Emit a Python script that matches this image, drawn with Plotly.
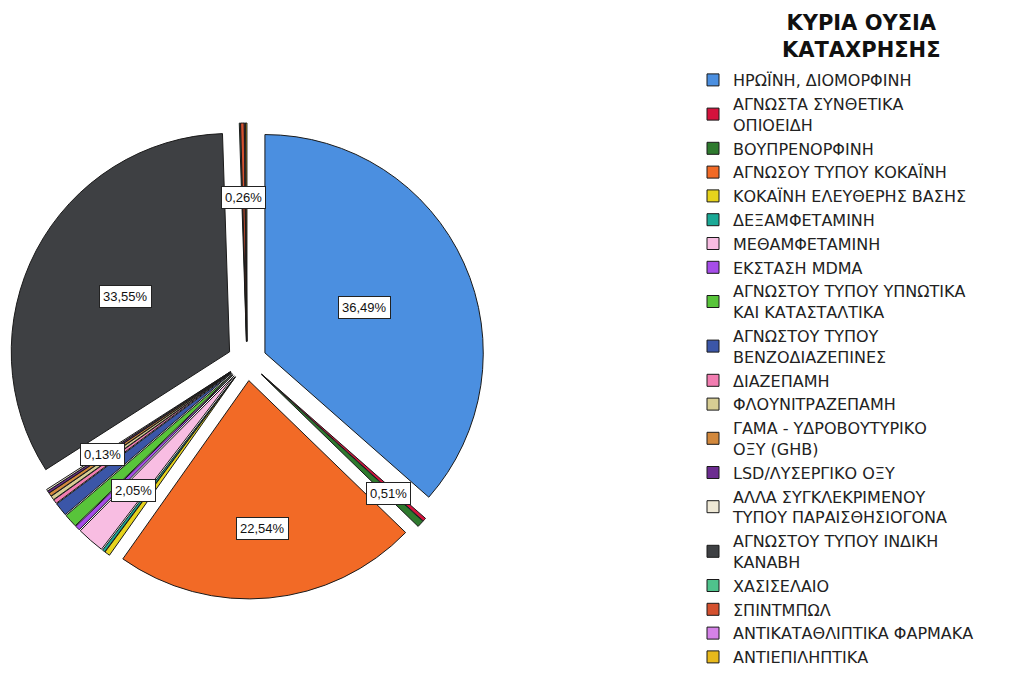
import math
import plotly.graph_objects as go

# ── Data ───────────────────────────────────────────────────────────────
SUBSTANCES = [
    "ΗΡΩΪΝΗ, ΔΙΟΜΟΡΦΙΝΗ",
    "ΑΓΝΩΣΤΑ ΣΥΝΘΕΤΙΚΑ<br>ΟΠΙΟΕΙΔΗ",
    "ΒΟΥΠΡΕΝΟΡΦΙΝΗ",
    "ΑΓΝΩΣΟΥ ΤΥΠΟΥ ΚΟΚΑΪΝΗ",
    "ΚΟΚΑΪΝΗ ΕΛΕΥΘΕΡΗΣ ΒΑΣΗΣ",
    "ΔΕΞΑΜΦΕΤΑΜΙΝΗ",
    "ΜΕΘΑΜΦΕΤΑΜΙΝΗ",
    "ΕΚΣΤΑΣΗ MDMA",
    "ΑΓΝΩΣΤΟΥ ΤΥΠΟΥ ΥΠΝΩΤΙΚΑ<br>ΚΑΙ ΚΑΤΑΣΤΑΛΤΙΚΑ",
    "ΑΓΝΩΣΤΟΥ ΤΥΠΟΥ<br>ΒΕΝΖΟΔΙΑΖΕΠΙΝΕΣ",
    "ΔΙΑΖΕΠΑΜΗ",
    "ΦΛΟΥΝΙΤΡΑΖΕΠΑΜΗ",
    "ΓΑΜΑ - ΥΔΡΟΒΟΥΤΥΡΙΚΟ<br>ΟΞΥ (GHB)",
    "LSD/ΛΥΣΕΡΓΙΚΟ ΟΞΥ",
    "ΑΛΛΑ ΣΥΓΚΛΕΚΡΙΜΕΝΟΥ<br>ΤΥΠΟΥ ΠΑΡΑΙΣΘΗΣΙΟΓΟΝΑ",
    "ΑΓΝΩΣΤΟΥ ΤΥΠΟΥ ΙΝΔΙΚΗ<br>ΚΑΝΑΒΗ",
    "ΧΑΣΙΣΕΛΑΙΟ",
    "ΣΠΙΝΤΜΠΩΛ",
    "ΑΝΤΙΚΑΤΑΘΛΙΠΤΙΚΑ ΦΑΡΜΑΚΑ",
    "ΑΝΤΙΕΠΙΛΗΠΤΙΚΑ",
]

PERCENTS = [
    36.49, 0.25, 0.51, 22.54, 0.40, 0.20, 2.05, 0.35, 1.00, 1.00,
    0.30, 0.30, 0.25, 0.16, 0.13, 33.55, 0.08, 0.26, 0.08, 0.10,
]

COLORS = [
    "#4b8fe0", "#d4123c", "#2e7a2e", "#f26a26", "#e6d31c",
    "#1aa996", "#f8bde2", "#a64de9", "#58c43a", "#3b56a8",
    "#f27db1", "#d7cd93", "#d2883c", "#6c2c90", "#efe9d6",
    "#3e4043", "#4fc38c", "#d4512f", "#d582e8", "#e8b91c",
]

LEGEND_TITLE = "ΚΥΡΙΑ ΟΥΣΙΑ<br>ΚΑΤΑΧΡΗΣΗΣ"

# slices that carry a percentage box
LABELLED = [
    "ΗΡΩΪΝΗ, ΔΙΟΜΟΡΦΙΝΗ",
    "ΒΟΥΠΡΕΝΟΡΦΙΝΗ",
    "ΑΓΝΩΣΟΥ ΤΥΠΟΥ ΚΟΚΑΪΝΗ",
    "ΜΕΘΑΜΦΕΤΑΜΙΝΗ",
    "ΑΛΛΑ ΣΥΓΚΛΕΚΡΙΜΕΝΟΥ<br>ΤΥΠΟΥ ΠΑΡΑΙΣΘΗΣΙΟΓΟΝΑ",
    "ΑΓΝΩΣΤΟΥ ΤΥΠΟΥ ΙΝΔΙΚΗ<br>ΚΑΝΑΒΗ",
    "ΣΠΙΝΤΜΠΩΛ",
]

# ── Layout geometry (page pixels) ──────────────────────────────────────
W, H = 1014, 677
PAGE_OFF = 8               # default body margin of the html page
CX, CY = 247, 361          # pie centre on the page
HALF = 238                 # half size of the pie domain
PULL = 0.09
R = HALF / (1 + PULL)

# radial position of each label box, as a fraction of the radius
LABEL_DIST = [0.50, 0.80, 0.68, 0.70, 0.70, 0.54, 0.66]


def to_paper(px, py):
    return (px - PAGE_OFF) / W, 1 - (py - PAGE_OFF) / H


fig = go.Figure()

x0, y1 = to_paper(CX - HALF, CY - HALF)
x1, y0 = to_paper(CX + HALF, CY + HALF)
fig.add_trace(go.Pie(
    labels=SUBSTANCES,
    values=PERCENTS,
    marker=dict(colors=COLORS, line=dict(color="#1a1a1a", width=1)),
    sort=False,
    direction="clockwise",
    rotation=0,
    pull=[PULL] * len(PERCENTS),
    textinfo="none",
    domain=dict(x=[max(x0, 0), min(x1, 1)], y=[max(y0, 0), min(y1, 1)]),
))

# ── Percentage boxes at slice mid-angles ───────────────────────────────
total = sum(PERCENTS)
cum = 0.0
mids = {}
for name, v in zip(SUBSTANCES, PERCENTS):
    mids[name] = ((cum + v / 2) / total, v / total * 100)
    cum += v

for name, frac in zip(LABELLED, LABEL_DIST):
    m, pct = mids[name]
    ang = m * 2 * math.pi
    d = (PULL + frac) * R
    ax, ay = to_paper(CX + d * math.sin(ang), CY - d * math.cos(ang))
    fig.add_annotation(
        x=ax, y=ay, xref="paper", yref="paper",
        xanchor="center", yanchor="middle",
        text=f"{pct:.2f}%".replace(".", ","),
        showarrow=False,
        bgcolor="white", bordercolor="#222", borderwidth=1, borderpad=3,
        font=dict(family="Liberation Sans, Arial, sans-serif", size=13, color="#111"),
    )

# legend heading
tx, ty = to_paper(861, 36)
fig.add_annotation(
    x=tx, y=ty, xref="paper", yref="paper",
    xanchor="center", yanchor="middle",
    text=f"<b>{LEGEND_TITLE}</b>",
    showarrow=False,
    font=dict(family="DejaVu Sans, Arial, sans-serif", size=21, color="#111"),
)

lx, ly = to_paper(693, 63)
fig.update_layout(
    width=W, height=H,
    paper_bgcolor="white",
    plot_bgcolor="white",
    font=dict(family="DejaVu Sans, Arial, sans-serif", color="#222"),
    margin=dict(l=0, r=0, t=0, b=0),
    showlegend=True,
    legend=dict(
        x=lx, xanchor="left",
        y=ly, yanchor="top",
        font=dict(size=16, color="#222"),
        bgcolor="rgba(0,0,0,0)",
        traceorder="normal",
        itemwidth=30,
    ),
)

fig.write_html("out.html")
